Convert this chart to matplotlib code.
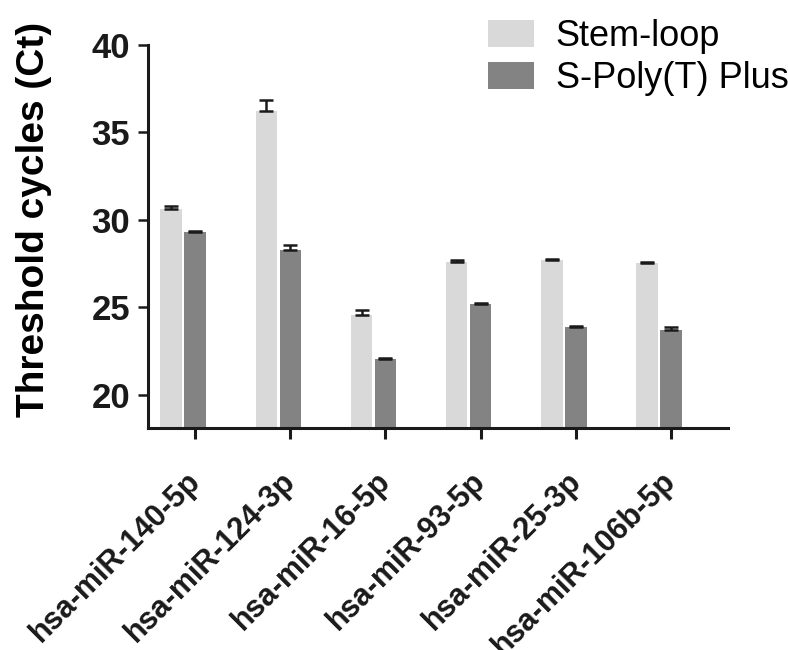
import numpy as np
import matplotlib
matplotlib.use('Agg')
import matplotlib.pyplot as plt
from matplotlib.transforms import ScaledTranslation

plt.rcParams['font.family'] = ['Liberation Sans', 'DejaVu Sans']

# Data
mirnas = ['hsa-miR-140-5p', 'hsa-miR-124-3p', 'hsa-miR-16-5p',
          'hsa-miR-93-5p', 'hsa-miR-25-3p', 'hsa-miR-106b-5p']
stem_loop = [30.65, 36.2, 24.55, 27.6, 27.71, 27.56]
stem_loop_err = [0.15, 0.63, 0.28, 0.1, 0.04, 0.05]
spolyt = [29.29, 28.29, 22.02, 25.18, 23.86, 23.73]
spolyt_err = [0.05, 0.3, 0.1, 0.04, 0.06, 0.15]

light = '#d9d9d9'
dark = '#838383'

fig = plt.figure(figsize=(7.88, 6.5), dpi=100)
ax = fig.add_axes([0.188, 0.3415, 0.736, 0.5893])

x = np.arange(len(mirnas))
w = 0.227
off = 0.252

ax.bar(x - off, stem_loop, w, color=light, label='Stem-loop', zorder=2)
ax.bar(x, spolyt, w, color=dark, label='S-Poly(T) Plus', zorder=2)
ax.errorbar(x - off, stem_loop, yerr=[np.zeros(6), stem_loop_err], fmt='none',
            ecolor='#1a1a1a', elinewidth=1.8, capsize=4.7, capthick=1.8, zorder=3)
ax.errorbar(x, spolyt, yerr=[np.zeros(6), spolyt_err], fmt='none',
            ecolor='#1a1a1a', elinewidth=1.8, capsize=4.7, capthick=1.8, zorder=3)

ax.set_ylim(18.1, 40)
ax.set_xlim(-0.494, 5.6)
ax.set_yticks([20, 25, 30, 35, 40])
ax.set_xticks(x)
ax.set_xticklabels([])
for lab in ax.get_yticklabels():
    lab.set_fontsize(25)
    lab.set_fontweight('bold')

# rotated category labels, placed a bit further down than the tick labels would be
shift = ScaledTranslation(-7.2 / 72, -27.4 / 72, fig.dpi_scale_trans)
for xi, name in zip(x, mirnas):
    ax.text(xi, 0, name, transform=ax.get_xaxis_transform() + shift,
            rotation=45, ha='right', va='top', rotation_mode='anchor',
            fontsize=22, fontweight='bold', color='#1a1a1a', clip_on=False)

ax.set_ylabel('Threshold cycles (Ct)', fontsize=28, fontweight='bold')
ax.yaxis.set_label_coords(-0.165, 0.545)

for s in ['top', 'right']:
    ax.spines[s].set_visible(False)
for s in ['left', 'bottom']:
    ax.spines[s].set_linewidth(2.2)
    ax.spines[s].set_color('#1a1a1a')
ax.tick_params(axis='y', length=7, width=1.8, pad=6, colors='#1a1a1a')
ax.tick_params(axis='x', length=8, width=2.2, colors='#1a1a1a')

fig.legend(loc='upper left', bbox_to_anchor=(488 / 788, 1 - 19 / 650),
           frameon=False, fontsize=26, borderpad=0, borderaxespad=0,
           handlelength=1.28, handleheight=0.75, handletextpad=0.6,
           labelspacing=0.2)

fig.savefig('out.png', dpi=100)
